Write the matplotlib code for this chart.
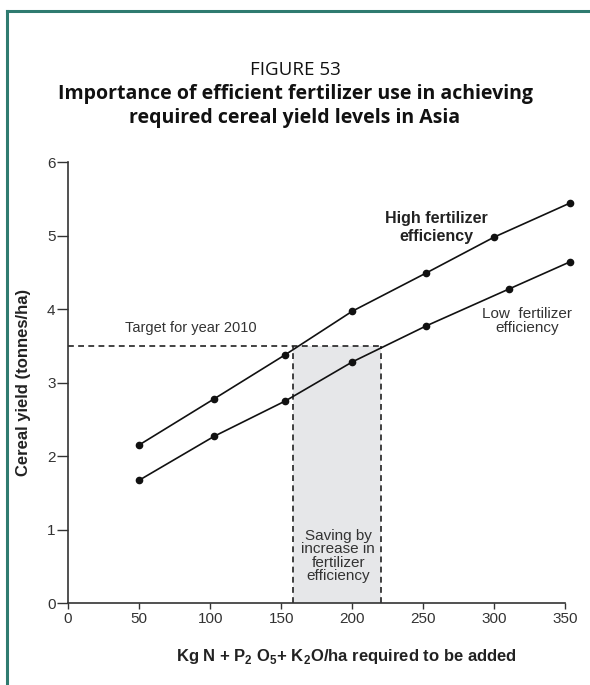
import numpy as np
import matplotlib
matplotlib.use('Agg')
import matplotlib.pyplot as plt
from matplotlib.lines import Line2D

# fertilizer added (kg/ha) and cereal yield (t/ha)
high_x = [50, 103, 153, 200, 252, 300, 353]
high_y = [2.15, 2.78, 3.38, 3.97, 4.49, 4.98, 5.44]
low_x = [50, 103, 153, 200, 252, 310, 353]
low_y = [1.67, 2.27, 2.75, 3.28, 3.77, 4.27, 4.64]

target = 3.5
saving_from, saving_to = 158, 220

x_ticks = [0, 50, 100, 150, 200, 250, 300, 350]
y_ticks = [0, 1, 2, 3, 4, 5, 6]

plt.rcParams['font.family'] = ['Liberation Sans', 'DejaVu Sans']
plt.rcParams['mathtext.fontset'] = 'custom'
plt.rcParams['mathtext.rm'] = 'Liberation Sans'
plt.rcParams['mathtext.bf'] = 'Liberation Sans:bold'

fig = plt.figure(figsize=(5.9, 6.85), dpi=100)
ax = fig.add_axes([0.1153, 0.1197, 0.8576, 0.6438])

# frame around the figure
teal = '#2f7b70'
fig.add_artist(Line2D([0.012, 0.012], [0.0, 0.984], color=teal, lw=2.2, transform=fig.transFigure))
fig.add_artist(Line2D([0.012, 1.0], [0.984, 0.984], color=teal, lw=2.2, transform=fig.transFigure))

# saving area and target lines
dash = (0, (3.5, 2.6))
ax.fill_between([saving_from, saving_to], 0, target, color='#e6e7e9', lw=0, zorder=1)
ax.plot([0, saving_to], [target, target], color='#222222', lw=1.2, ls=dash, zorder=2)
ax.plot([saving_from, saving_from], [0, target], color='#222222', lw=1.2, ls=dash, zorder=2)
ax.plot([saving_to, saving_to], [0, target], color='#222222', lw=1.2, ls=dash, zorder=2)

ax.plot(high_x, high_y, color='#111111', lw=1.2, marker='o', ms=4.5, zorder=3)
ax.plot(low_x, low_y, color='#111111', lw=1.2, marker='o', ms=4.5, zorder=3)

ax.set_xlim(0, 356)
ax.set_ylim(0, 6)
ax.spines['top'].set_visible(False)
ax.spines['right'].set_visible(False)
ax.spines['bottom'].set_bounds(0, 350)
for s in ('left', 'bottom'):
    ax.spines[s].set_linewidth(1.2)
    ax.spines[s].set_color('#333333')
ax.set_xticks(x_ticks)
ax.set_yticks(y_ticks)
ax.tick_params(axis='both', direction='out', width=1.0, color='#333333',
               labelsize=11, labelcolor='#333333')
ax.tick_params(axis='x', length=4.5, pad=2)
ax.tick_params(axis='y', length=8, pad=1)

ax.set_xlabel(r'Kg N + P$_\mathbf{2}$ O$_\mathbf{5}$+ K$_\mathbf{2}$O/ha required to be added',
              fontsize=12, fontweight='bold', color='#222222')
ax.xaxis.set_label_coords(0.551, -0.122)
ax.xaxis.label.set_va('center')
ax.set_ylabel('Cereal yield (tonnes/ha)', fontsize=12, fontweight='bold', color='#222222')
ax.yaxis.set_label_coords(-0.088, 0.5)
ax.yaxis.label.set_va('center')

ax.text(86.5, 3.74, 'Target for year 2010', ha='center', va='center', fontsize=10.5, color='#333333')
ax.text(259, 5.11, 'High fertilizer\nefficiency', ha='center', va='center', fontsize=11.5,
        fontweight='bold', color='#222222', linespacing=1.3)
ax.text(323, 3.84, 'Low  fertilizer\nefficiency', ha='center', va='center', fontsize=11,
        color='#333333', linespacing=1.0)
ax.text(190, 0.64, 'Saving by\nincrease in\nfertilizer\nefficiency', ha='center', va='center',
        fontsize=11, color='#333333', linespacing=0.95)

title_font = ['Open Sans', 'DejaVu Sans']
fig.text(0.5, 0.898, 'FIGURE 53', ha='center', va='center', fontsize=13.5, family=title_font, color='#111111')
fig.text(0.5, 0.845, 'Importance of efficient fertilizer use in achieving\nrequired cereal yield levels in Asia',
         ha='center', va='center', fontsize=14, family=title_font, fontweight='bold', color='#111111',
         linespacing=1.3)

fig.savefig('out.png', dpi=100, facecolor='white')
